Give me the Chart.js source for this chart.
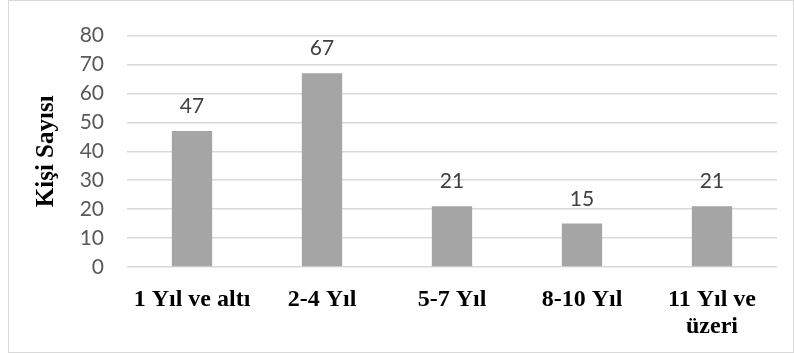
<!DOCTYPE html>
<html>
<head>
<meta charset="utf-8">
<script src="https://cdn.jsdelivr.net/npm/chart.js@4.4.1/dist/chart.umd.min.js"></script>
<style>
  html, body { margin: 0; padding: 0; background: #fff; }
  #wrap { position: relative; width: 794px; height: 353px; }
  #frame { position: absolute; left: 8px; top: 0px; width: 784px; height: 351px; border: 1px solid #d9d9d9; box-sizing: content-box; pointer-events: none; }
  canvas { position: absolute; left: 0; top: 0; }
</style>
</head>
<body>
<div id="wrap">
  <canvas id="c" width="794" height="353"></canvas>
  <div id="frame"></div>
</div>
<script>
// Çalışma süresine göre kişi sayısı
const categories = ['1 Yıl ve altı', '2-4 Yıl', '5-7 Yıl', '8-10 Yıl', ['11 Yıl ve', 'üzeri']];
const counts = [47, 67, 21, 15, 21];
const yTicks = [0, 10, 20, 30, 40, 50, 60, 70, 80];
const yTitle = 'Kişi Sayısı';

// Değerleri çubukların üstüne yazan eklenti
const valueLabels = {
  id: 'valueLabels',
  afterDatasetsDraw(chart) {
    const ctx = chart.ctx;
    const meta = chart.getDatasetMeta(0);
    ctx.save();
    ctx.font = '21px Lato';
    ctx.fillStyle = '#404040';
    ctx.textAlign = 'center';
    ctx.textBaseline = 'alphabetic';
    meta.data.forEach((bar, i) => {
      ctx.fillText(String(chart.data.datasets[0].data[i]), bar.x, bar.y - 18);
    });
    ctx.restore();
  }
};

new Chart(document.getElementById('c'), {
  type: 'bar',
  data: {
    labels: categories,
    datasets: [{
      data: counts,
      backgroundColor: '#a5a5a5',
      borderWidth: 0,
      categoryPercentage: 1,
      barPercentage: 0.31
    }]
  },
  options: {
    responsive: false,
    animation: false,
    devicePixelRatio: 1,
    layout: { padding: { left: 10, right: 17, top: 29, bottom: 0 } },
    plugins: { legend: { display: false }, tooltip: { enabled: false } },
    scales: {
      x: {
        grid: { display: false },
        border: { display: false },
        ticks: {
          color: '#000',
          padding: 12,
          maxRotation: 0,
          autoSkip: false,
          font: { family: '"Liberation Serif", "Times New Roman", serif', size: 24, weight: 'bold', lineHeight: 1.1 }
        },
        afterFit(scale) { scale.height = 86; }
      },
      y: {
        min: 0,
        max: 80,
        afterBuildTicks(scale) { scale.ticks = yTicks.map(v => ({ value: v })); },
        grid: { color: '#d9d9d9', lineWidth: 1.5, drawTicks: false },
        border: { display: false },
        ticks: {
          color: '#595959',
          padding: 23,
          font: { family: 'Lato', size: 21 }
        },
        title: {
          display: true,
          text: yTitle,
          color: '#000',
          padding: { top: 22, bottom: 0 },
          font: { family: '"Liberation Serif", "Times New Roman", serif', size: 25, weight: 'bold', lineHeight: 1.2 }
        },
        afterFit(scale) { scale.width = 117; }
      }
    }
  },
  plugins: [valueLabels]
});
</script>
</body>
</html>
